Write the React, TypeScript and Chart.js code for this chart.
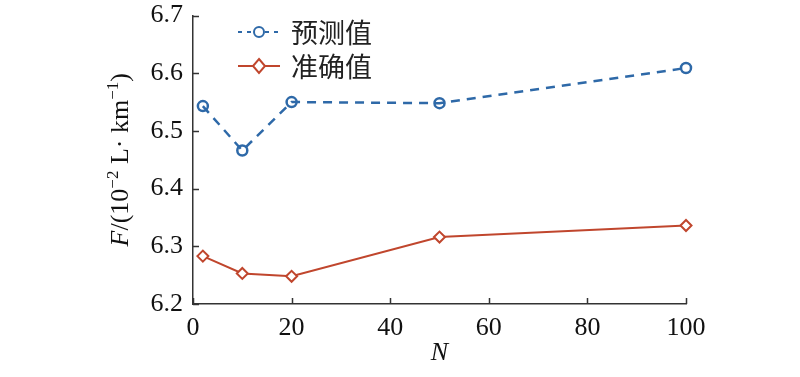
import React, { useEffect, useRef } from "react";
import { Chart, registerables } from "chart.js";

Chart.register(...registerables);

const nValues = [2, 10, 20, 50, 100];
const predicted = [6.543, 6.466, 6.55, 6.548, 6.609];
const actual = [6.283, 6.253, 6.248, 6.316, 6.336];
const seriesLabels = ["预测值", "准确值"];
const xTickValues = [0, 20, 40, 60, 80, 100];
const yTickValues = [6.2, 6.3, 6.4, 6.5, 6.6, 6.7];

const BLUE = "#2e69a8";
const RED = "#c0462d";
const AXIS = "#333333";
const SERIF = "'Liberation Serif', 'Times New Roman', serif";

const inwardTicks = {
  id: "inwardTicks",
  afterDraw(chart: any) {
    const ctx = chart.ctx;
    const x = chart.scales.x;
    const y = chart.scales.y;
    const area = chart.chartArea;
    ctx.save();
    ctx.strokeStyle = AXIS;
    ctx.lineWidth = 1.5;
    ctx.beginPath();
    yTickValues.forEach((v) => {
      const py = Math.round(y.getPixelForValue(v)) + 0.5;
      ctx.moveTo(area.left, py);
      ctx.lineTo(area.left + 6, py);
    });
    xTickValues.forEach((v) => {
      const px = Math.round(x.getPixelForValue(v)) + 0.5;
      ctx.moveTo(px, area.bottom);
      ctx.lineTo(px, area.bottom - 6);
    });
    ctx.stroke();
    ctx.restore();
  },
};

const yTitle = {
  id: "yTitle",
  afterDraw(chart: any) {
    const ctx = chart.ctx;
    const area = chart.chartArea;
    const cy = (area.top + area.bottom) / 2;
    const pieces = [
      { t: "F", font: `italic 26px ${SERIF}`, dy: 0 },
      { t: "/(10", font: `26px ${SERIF}`, dy: 0 },
      { t: "\u22122", font: `17px ${SERIF}`, dy: -10 },
      { t: " L\u00b7 km", font: `26px ${SERIF}`, dy: 0 },
      { t: "\u22121", font: `17px ${SERIF}`, dy: -10 },
      { t: ")", font: `26px ${SERIF}`, dy: 0 },
    ];
    ctx.save();
    let total = 0;
    const widths = pieces.map((p) => {
      ctx.font = p.font;
      const w = ctx.measureText(p.t).width;
      total += w;
      return w;
    });
    ctx.translate(119, cy);
    ctx.rotate(-Math.PI / 2);
    ctx.fillStyle = "#111";
    ctx.textBaseline = "alphabetic";
    ctx.textAlign = "left";
    let cx = -total / 2;
    pieces.forEach((p, i) => {
      ctx.font = p.font;
      ctx.fillText(p.t, cx, 9 + p.dy);
      cx += widths[i];
    });
    ctx.restore();
  },
};

const lineLegend = {
  id: "lineLegend",
  afterDraw(chart: any) {
    const ctx = chart.ctx;
    const rows = [32, 66];
    chart.data.datasets.forEach((ds: any, i: number) => {
      const yy = rows[i];
      ctx.save();
      ctx.strokeStyle = ds.borderColor;
      ctx.lineWidth = 2;
      ctx.setLineDash(i === 0 ? [4, 5] : []);
      ctx.beginPath();
      ctx.moveTo(238, yy);
      ctx.lineTo(280, yy);
      ctx.stroke();
      ctx.setLineDash([]);
      ctx.lineWidth = 2;
      ctx.fillStyle = "#fff";
      ctx.beginPath();
      if (ds.pointStyle === "circle") {
        ctx.arc(259, yy, 5, 0, Math.PI * 2);
      } else {
        ctx.moveTo(259, yy - 7);
        ctx.lineTo(265, yy);
        ctx.lineTo(259, yy + 7);
        ctx.lineTo(253, yy);
        ctx.closePath();
      }
      ctx.fill();
      ctx.stroke();
      ctx.fillStyle = "#222";
      ctx.font = `27px 'Noto Sans CJK SC', sans-serif`;
      ctx.textBaseline = "middle";
      ctx.textAlign = "left";
      ctx.fillText(ds.label, 291, yy + 1);
      ctx.restore();
    });
  },
};

export default function App() {
  const ref = useRef<HTMLCanvasElement | null>(null);
  useEffect(() => {
    if (!ref.current) return;
    const chart = new Chart(ref.current, {
      type: "line",
      data: {
        datasets: [
          {
            label: seriesLabels[0],
            data: nValues.map((n, i) => ({ x: n, y: predicted[i] })),
            borderColor: BLUE,
            borderWidth: 2.5,
            borderDash: [9, 7],
            pointStyle: "circle",
            pointRadius: 5,
            pointBorderWidth: 2.5,
            pointBorderColor: BLUE,
            pointBackgroundColor: "rgba(0,0,0,0)",
            fill: false,
            tension: 0,
            clip: false,
          },
          {
            label: seriesLabels[1],
            data: nValues.map((n, i) => ({ x: n, y: actual[i] })),
            borderColor: RED,
            borderWidth: 2,
            pointStyle: "rectRot",
            pointRadius: 5.5,
            pointBorderWidth: 2,
            pointBorderColor: RED,
            pointBackgroundColor: "#fff",
            fill: false,
            tension: 0,
            clip: false,
          },
        ],
      },
      options: {
        responsive: false,
        animation: false,
        layout: { padding: { left: 0, right: 114, top: 15.5, bottom: 0 } },
        plugins: { legend: { display: false }, tooltip: { enabled: false } },
        scales: {
          x: {
            type: "linear",
            min: 0,
            max: 100,
            afterBuildTicks: (s: any) => {
              s.ticks = xTickValues.map((v) => ({ value: v }));
            },
            afterFit: (s: any) => {
              s.height = 73;
              s.paddingLeft = 0;
              s.paddingRight = 0;
            },
            grid: { display: true, drawOnChartArea: false, drawTicks: false },
            border: { display: true, color: AXIS, width: 1.5 },
            ticks: {
              color: "#111",
              padding: 9,
              font: { family: SERIF, size: 26 },
              maxRotation: 0,
            },
            title: {
              display: true,
              text: "N",
              color: "#111",
              font: { family: SERIF, size: 26, style: "italic" },
              padding: { top: 0, bottom: 8 },
            },
          },
          y: {
            type: "linear",
            min: 6.2,
            max: 6.7,
            afterBuildTicks: (s: any) => {
              s.ticks = yTickValues.map((v) => ({ value: v }));
            },
            afterFit: (s: any) => {
              s.width = 193;
              s.paddingTop = 0;
              s.paddingBottom = 0;
            },
            grid: { display: true, drawOnChartArea: false, drawTicks: false },
            border: { display: true, color: AXIS, width: 1.5 },
            ticks: {
              color: "#111",
              padding: 10,
              font: { family: SERIF, size: 26 },
              callback: (v: any) => Number(v).toFixed(1),
            },
          },
        },
      },
      plugins: [inwardTicks, yTitle, lineLegend],
    });
    return () => chart.destroy();
  }, []);
  return (
    <div style={{ position: "absolute", left: 0, top: 0, width: 800, height: 377, background: "#fff" }}>
      <canvas ref={ref} width={800} height={377} style={{ display: "block" }} />
    </div>
  );
}
